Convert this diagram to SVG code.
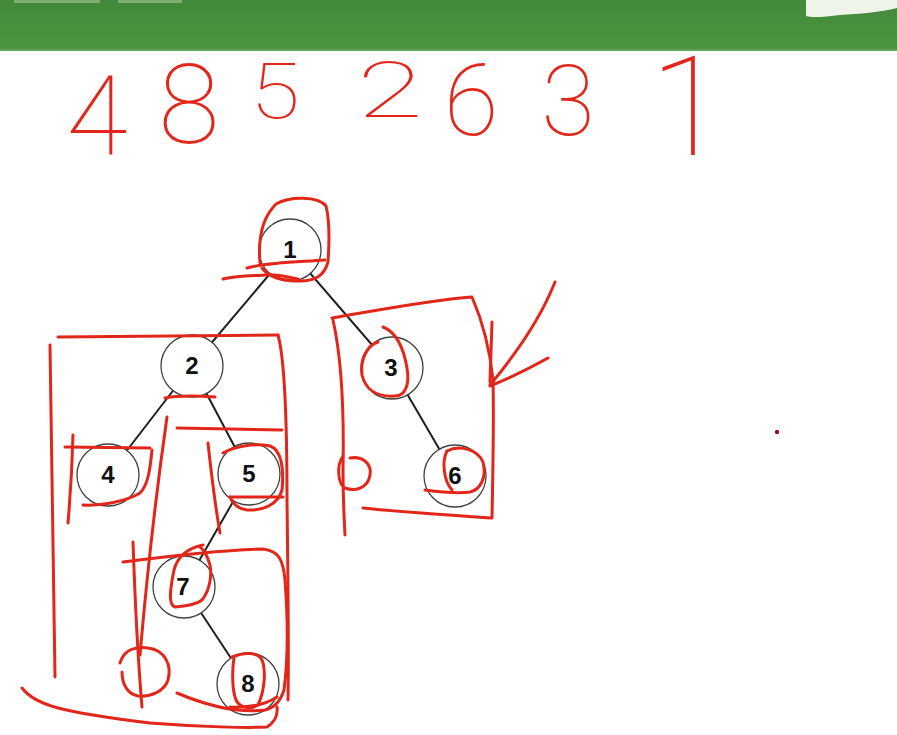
<svg xmlns="http://www.w3.org/2000/svg" width="897" height="735" viewBox="0 0 897 735">
<defs>
<linearGradient id="bar" x1="0" y1="0" x2="0" y2="1">
<stop offset="0" stop-color="#42893a"/>
<stop offset="1" stop-color="#4d9441"/>
</linearGradient>
<style>
.edge{stroke:#1e1e1e;stroke-width:2;fill:none}
.node circle{fill:#fff;stroke:#404040;stroke-width:1.3}
.node text{font-family:"Liberation Sans",Arial,sans-serif;font-weight:bold;font-size:24px;fill:#111;text-anchor:middle}
.ink{fill:none;stroke:#e2261a;stroke-width:3;stroke-linecap:round;stroke-linejoin:round}
.hand{font-family:Roboto,"Liberation Sans",sans-serif;font-weight:100;fill:#e2261a;text-anchor:middle}
</style>
</defs>
<rect width="897" height="735" fill="#fff"/>
<g id="header">
<rect x="0" y="0" width="897" height="51" fill="url(#bar)"/>
<rect x="0" y="49" width="897" height="2" fill="#5fa452"/>
<path d="M14,0 H100 V3 H14 Z M118,0 H182 V3 H118 Z" fill="#b9d4b0" opacity="0.5"/>
<path d="M806,0 H897 V8 C880,12 860,14 840,15 C825,17 812,18 806,16 Z" fill="#eef4ea"/>
</g>
<g id="sequence">
<text class="hand" x="97" y="155" font-size="112">4</text>
<text class="hand" x="189" y="143" font-size="112">8</text>
<text class="hand" x="275" y="118" font-size="78" textLength="50" lengthAdjust="spacingAndGlyphs">5</text>
<text class="hand" x="390" y="117" font-size="78" textLength="66" lengthAdjust="spacingAndGlyphs">2</text>
<text class="hand" x="471" y="135" font-size="100">6</text>
<text class="hand" x="568" y="135" font-size="98">3</text>
<text class="hand" x="688" y="155" font-size="140">1</text>
</g>
<g id="connectors">
<line class="edge" x1="290" y1="250" x2="192" y2="366"/>
<line class="edge" x1="290" y1="250" x2="392" y2="368"/>
<line class="edge" x1="192" y1="366" x2="108" y2="475"/>
<line class="edge" x1="192" y1="366" x2="249" y2="474"/>
<line class="edge" x1="392" y1="368" x2="455" y2="476"/>
<line class="edge" x1="249" y1="474" x2="184" y2="587"/>
<line class="edge" x1="184" y1="587" x2="248" y2="684"/>
</g>
<g id="node1" class="node"><circle cx="290" cy="250" r="31"/><text x="290" y="258">1</text></g>
<g id="node2" class="node"><circle cx="192" cy="366" r="31"/><text x="192" y="374">2</text></g>
<g id="node3" class="node"><circle cx="392" cy="368" r="31"/><text x="391" y="376">3</text></g>
<g id="node4" class="node"><circle cx="108" cy="475" r="31"/><text x="108" y="483">4</text></g>
<g id="node5" class="node"><circle cx="249" cy="474" r="31"/><text x="249" y="482">5</text></g>
<g id="node6" class="node"><circle cx="455" cy="476" r="31"/><text x="455" y="484">6</text></g>
<g id="node7" class="node"><circle cx="184" cy="587" r="31"/><text x="183" y="595">7</text></g>
<g id="node8" class="node"><circle cx="248" cy="684" r="31"/><text x="248" y="692">8</text></g>
<g id="annotations">
<path class="ink" d="M260,263 C258,240 262,218 276,204 C290,196 318,196 326,206 C330,222 329,248 328,262 C324,276 315,281 300,281 C285,281 270,279 262,268"/>
<path class="ink" d="M247,268 C270,262 300,262 325,260"/>
<path class="ink" d="M223,279 C240,275 255,276 265,275 C280,274 290,278 298,279"/>
<path class="ink" d="M332,318 C380,310 430,300 472,297 C482,320 490,350 493,380 C494,420 493,470 492,517"/>
<path class="ink" d="M363,508 C400,512 450,515 492,518"/>
<path class="ink" d="M333,320 C342,360 344,420 343,470 C343,500 344,515 345,535"/>
<path class="ink" d="M555,282 C540,320 515,355 490,385"/>
<path class="ink" d="M548,358 C530,368 510,378 490,386"/>
<path class="ink" d="M492,322 L490,382"/>
<path class="ink" d="M343,456 C336,466 338,484 345,488 C355,492 368,488 370,475 C372,463 362,456 350,458"/>
<path class="ink" d="M383,327 C398,333 404,350 407,368 C410,385 405,396 395,396 C380,397 366,392 362,375 C360,358 368,345 378,342"/>
<path class="ink" d="M447,451 C460,444 478,450 483,462 C487,478 480,490 470,492 C455,494 440,492 425,490"/>
<path class="ink" d="M447,451 C442,460 443,480 452,490"/>
<path class="ink" d="M58,337 L278,335"/>
<path class="ink" d="M278,335 C285,360 287,420 287,500 C288,580 289,650 288,700"/>
<path class="ink" d="M50,345 C52,450 54,560 55,677"/>
<path class="ink" d="M22,688 C35,705 60,712 150,723 C200,727 250,728 267,727 C275,722 278,715 277,707"/>
<path class="ink" d="M165,398 C180,395 200,396 215,397"/>
<path class="ink" d="M65,447 L150,448"/>
<path class="ink" d="M152,450 C150,470 148,485 140,493 C125,502 100,506 83,505"/>
<path class="ink" d="M73,435 C72,470 70,500 68,523"/>
<path class="ink" d="M167,417 C158,480 150,540 140,655"/>
<path class="ink" d="M177,428 L282,430"/>
<path class="ink" d="M208,443 C212,480 216,510 220,533"/>
<path class="ink" d="M223,453 C235,446 255,443 270,446 C282,450 284,470 282,490 C278,505 262,511 247,510 C238,509 232,503 230,497"/>
<path class="ink" d="M230,497 L283,497"/>
<path class="ink" d="M123,562 C170,556 220,550 263,549 C278,551 283,558 285,580 C288,620 288,660 284,690 C280,702 275,707 265,710 C240,713 210,707 177,693"/>
<path class="ink" d="M133,542 C135,600 138,660 142,707"/>
<path class="ink" d="M203,545 C188,548 178,555 174,570 C170,590 168,605 175,607 C185,606 195,605 202,600 C210,590 212,575 210,565 C207,555 203,549 200,547"/>
<path class="ink" d="M120,663 C124,650 135,646 148,648 C165,650 172,665 168,680 C164,692 150,697 138,696 C128,694 122,685 122,672"/>
<path class="ink" d="M232,657 C245,652 258,652 262,660 C266,670 265,690 258,705 C250,710 240,708 236,700 C232,690 232,670 234,658"/>
<path class="ink" d="M230,707 C250,708 265,705 277,697"/>
<circle cx="777" cy="432" r="2.2" fill="#8a1a14"/>
</g>
</svg>
